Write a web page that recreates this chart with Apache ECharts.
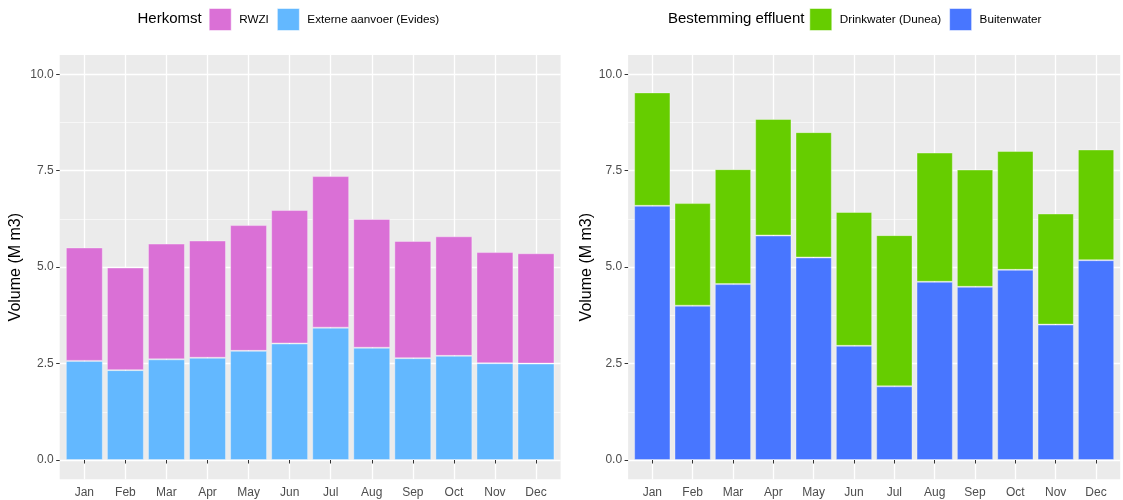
<!DOCTYPE html>
<html>
<head>
<meta charset="utf-8">
<script src="https://cdn.jsdelivr.net/npm/echarts@6/dist/echarts.min.js"></script>
<style>html,body{margin:0;padding:0;background:#fff;}#c{width:1123px;height:500px;}</style>
</head>
<body>
<div id="c"></div>
<script>
const months = ['Jan','Feb','Mar','Apr','May','Jun','Jul','Aug','Sep','Oct','Nov','Dec'];
const externeAanvoer = [2.57, 2.33, 2.61, 2.65, 2.83, 3.02, 3.43, 2.91, 2.64, 2.70, 2.51, 2.50];
const rwzi = [2.94, 2.66, 3.00, 3.04, 3.26, 3.46, 3.93, 3.34, 3.04, 3.10, 2.88, 2.86];
const buitenwater = [6.59, 4.00, 4.56, 5.82, 5.25, 2.96, 1.91, 4.62, 4.49, 4.93, 3.51, 5.18];
const drinkwater = [2.94, 2.66, 2.98, 3.02, 3.25, 3.47, 3.92, 3.35, 3.04, 3.08, 2.88, 2.87];
const yTicks = [0, 2.5, 5, 7.5, 10];

const FONT = "'Liberation Sans', Arial, sans-serif";
const GRAY = '#EBEBEB';
const colors = {rwzi:'#DA70D6', extern:'#63B8FF', drink:'#66CD00', buiten:'#4876FF'};

const panels = [
  {left: 59.7, width: 500.9, band: 41.06},
  {left: 628.1, width: 492.1, band: 40.34}
];
const PANEL_TOP = 55, PANEL_H = 424.3;
const Y0 = 460, Y10 = 74.3;

const grid = [], xAxis = [], yAxis = [];
panels.forEach((p) => {
  grid.push({left: p.left, top: PANEL_TOP, width: p.width, height: PANEL_H, show: true, backgroundColor: GRAY, borderWidth: 0, containLabel: false});
  grid.push({left: p.left, top: Y10, width: p.width, height: Y0 - Y10, show: false, containLabel: false});
  grid.push({left: p.left + 0.1 * p.band, top: PANEL_TOP, width: 12 * p.band, height: PANEL_H, show: false, containLabel: false});
});

panels.forEach((p, i) => {
  const g = i * 3;
  xAxis.push({type: 'value', gridIndex: g, min: 0, max: 1, show: false});
  xAxis.push({type: 'value', gridIndex: g + 1, min: 0, max: 1, show: false});
  xAxis.push({
    type: 'category', gridIndex: g + 2, data: months, boundaryGap: true,
    axisLine: {show: false},
    axisTick: {show: true, alignWithLabel: true, length: 3.5, lineStyle: {color: '#333333', width: 1}},
    axisLabel: {color: '#4D4D4D', fontSize: 12, fontFamily: FONT, margin: 7},
    splitLine: {show: true, alignWithLabel: true, lineStyle: {color: '#FFFFFF', width: 1.3}}
  });
  yAxis.push({type: 'value', gridIndex: g, min: 0, max: 1, show: false});
  yAxis.push({
    type: 'value', gridIndex: g + 1, min: yTicks[0], max: yTicks[yTicks.length - 1], interval: yTicks[1] - yTicks[0],
    name: 'Volume (M m3)', nameLocation: 'middle', nameGap: i === 0 ? 36 : 34,
    nameTextStyle: {color: '#000000', fontSize: 16, fontFamily: FONT},
    axisLine: {show: false},
    axisTick: {show: true, length: 3.5, lineStyle: {color: '#333333', width: 1}},
    axisLabel: {color: '#4D4D4D', fontSize: 12, fontFamily: FONT, margin: 6, formatter: (v) => v.toFixed(1)},
    splitLine: {show: true, lineStyle: {color: '#FFFFFF', width: 1.3}},
    minorTick: {show: false, splitNumber: 2},
    minorSplitLine: {show: true, lineStyle: {color: '#FFFFFF', width: 0.6}}
  });
  yAxis.push({type: 'value', gridIndex: g + 2, min: -0.5, max: 10.5, show: false});
});

const border = {borderColor: 'rgba(255,255,255,0.35)', borderWidth: 1};
const series = [
  {name: 'Externe aanvoer (Evides)', type: 'bar', stack: 'L', xAxisIndex: 2, yAxisIndex: 2, data: externeAanvoer, barCategoryGap: '10%', itemStyle: Object.assign({color: colors.extern}, border)},
  {name: 'RWZI', type: 'bar', stack: 'L', xAxisIndex: 2, yAxisIndex: 2, data: rwzi, barCategoryGap: '10%', itemStyle: Object.assign({color: colors.rwzi}, border)},
  {name: 'Buitenwater', type: 'bar', stack: 'R', xAxisIndex: 5, yAxisIndex: 5, data: buitenwater, barCategoryGap: '10%', itemStyle: Object.assign({color: colors.buiten}, border)},
  {name: 'Drinkwater (Dunea)', type: 'bar', stack: 'R', xAxisIndex: 5, yAxisIndex: 5, data: drinkwater, barCategoryGap: '10%', itemStyle: Object.assign({color: colors.drink}, border)}
];

const legendBase = {
  orient: 'horizontal', top: 8, padding: 0, itemWidth: 22, itemHeight: 22, itemGap: 8, icon: 'rect',
  itemStyle: {borderColor: 'rgba(255,255,255,0.5)', borderWidth: 1},
  textStyle: {color: '#000000', fontSize: 11.7, fontFamily: FONT, padding: [0, 0, 0, 3]},
  selectedMode: false
};

const option = {
  animation: false,
  backgroundColor: '#FFFFFF',
  title: [
    {text: 'Herkomst', left: 137.5, top: 11, padding: 0, textStyle: {color: '#000000', fontSize: 15, fontWeight: 'normal', fontFamily: FONT}},
    {text: 'Bestemming effluent', left: 668, top: 11, padding: 0, textStyle: {color: '#000000', fontSize: 15, fontWeight: 'normal', fontFamily: FONT}}
  ],
  legend: [
    Object.assign({}, legendBase, {left: 208.7, data: ['RWZI', 'Externe aanvoer (Evides)']}),
    Object.assign({}, legendBase, {left: 809.3, data: ['Drinkwater (Dunea)', 'Buitenwater']})
  ],
  grid, xAxis, yAxis, series
};

const chart = echarts.init(document.getElementById('c'), null, {renderer: 'canvas'});
chart.setOption(option);
</script>
</body>
</html>
